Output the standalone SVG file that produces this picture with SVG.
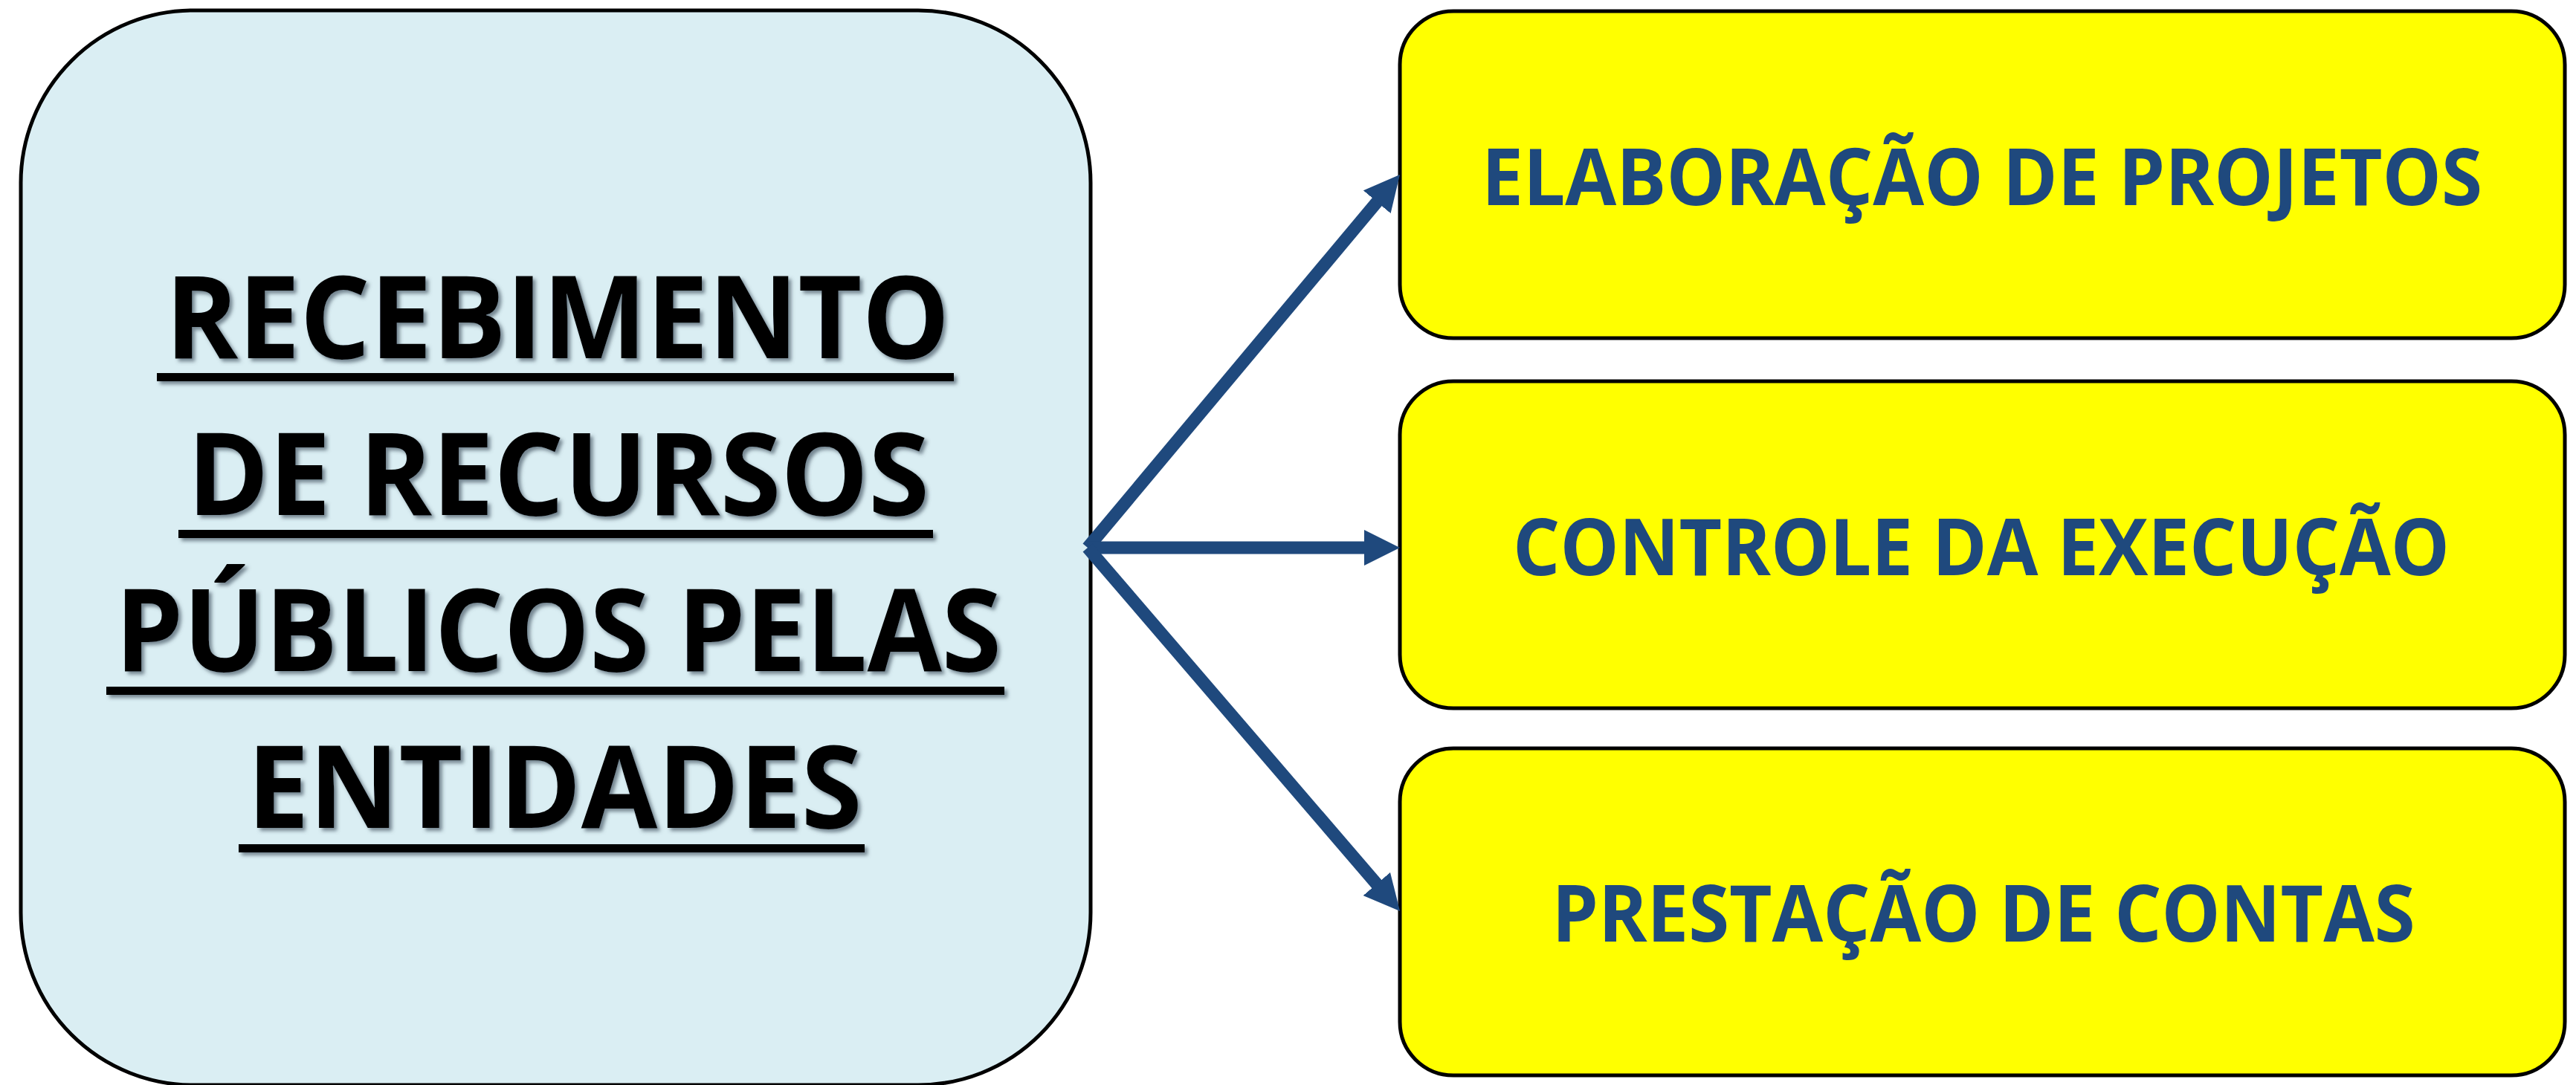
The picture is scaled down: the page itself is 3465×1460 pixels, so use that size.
<svg xmlns="http://www.w3.org/2000/svg" width="3465" height="1460" viewBox="0 0 3465 1460">
  <style>
    .main { fill: #DAEEF3; stroke: #000000; stroke-width: 5; }
    .step { fill: #FFFF00; stroke: #000000; stroke-width: 5; }
    .title { font-family: "Open Sans", "Liberation Sans", sans-serif; font-weight: 700; font-size: 155px; fill: #000000; text-anchor: middle; }
    .label { font-family: "Open Sans", "Liberation Sans", sans-serif; font-weight: 700; font-size: 106px; fill: #1F497D; text-anchor: middle; }
    .uline { fill: #000000; }
    .conn { stroke: #1F497D; stroke-width: 17; fill: none; marker-end: url(#arrow); }
  </style>
  <defs>
    <marker id="arrow" markerUnits="userSpaceOnUse" markerWidth="48" markerHeight="48" refX="8" refY="24" orient="auto">
      <path d="M0,0 L48,24 L0,48 z" fill="#1F497D"/>
    </marker>
    <filter id="shadow" x="-5%" y="-20%" width="110%" height="140%">
      <feDropShadow dx="4" dy="4" stdDeviation="2.5" flood-color="#4A5A66" flood-opacity="0.7"/>
    </filter>
  </defs>

  <g id="node-recebimento">
    <rect class="main" x="28" y="14" width="1439" height="1446" rx="232" ry="232"/>
    <g filter="url(#shadow)">
      <text class="title" x="750" y="482" textLength="1055" lengthAdjust="spacingAndGlyphs">RECEBIMENTO</text>
      <rect class="uline" x="211" y="502" width="1072" height="11"/>
      <text class="title" x="751" y="693" textLength="998" lengthAdjust="spacingAndGlyphs">DE RECURSOS</text>
      <rect class="uline" x="240" y="713" width="1015" height="11"/>
      <text class="title" x="751" y="903" textLength="1192" lengthAdjust="spacingAndGlyphs">PÚBLICOS PELAS</text>
      <rect class="uline" x="143" y="924" width="1208" height="11"/>
      <text class="title" x="746" y="1114" textLength="827" lengthAdjust="spacingAndGlyphs">ENTIDADES</text>
      <rect class="uline" x="321" y="1136" width="842" height="11"/>
    </g>
  </g>

  <g id="node-elaboracao">
    <rect class="step" x="1883" y="15" width="1567" height="440" rx="72" ry="72"/>
    <text class="label" x="2666" y="276" textLength="1346" lengthAdjust="spacingAndGlyphs">ELABORAÇÃO DE PROJETOS</text>
  </g>

  <g id="node-controle">
    <rect class="step" x="1883" y="513" width="1567" height="440" rx="72" ry="72"/>
    <text class="label" x="2665" y="774" textLength="1260" lengthAdjust="spacingAndGlyphs">CONTROLE DA EXECUÇÃO</text>
  </g>

  <g id="node-prestacao">
    <rect class="step" x="1883" y="1007" width="1567" height="440" rx="72" ry="72"/>
    <text class="label" x="2668" y="1267" textLength="1161" lengthAdjust="spacingAndGlyphs">PRESTAÇÃO DE CONTAS</text>
  </g>

  <g id="connectors">
    <line class="conn" x1="1463" y1="737" x2="1857.3" y2="265.6"/>
    <line class="conn" x1="1463" y1="737" x2="1843" y2="737"/>
    <line class="conn" x1="1463" y1="737" x2="1857" y2="1195.6"/>
  </g>
</svg>
